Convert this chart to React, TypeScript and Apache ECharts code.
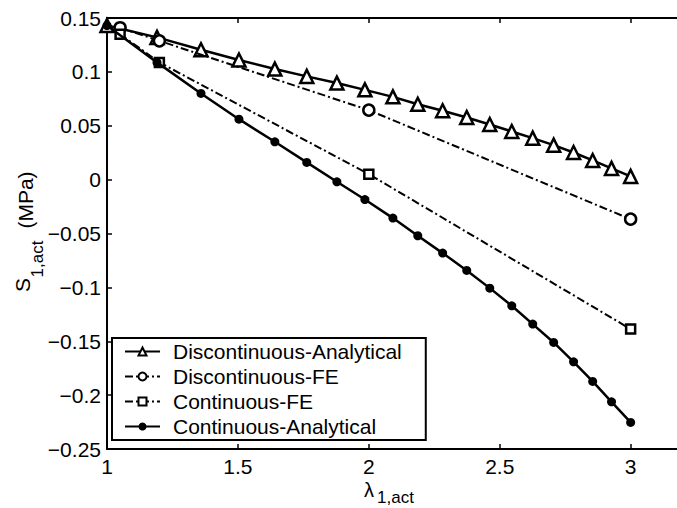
import React, { useEffect, useRef } from "react";
import * as echarts from "echarts";

const FONT = "'Liberation Sans', Arial, Helvetica, sans-serif";

// x values (lambda_1,act) of the analytical curves
const analyticX = [
  1.0, 1.191, 1.359, 1.504, 1.641, 1.763, 1.878, 1.985, 2.092, 2.187, 2.282,
  2.374, 2.462, 2.546, 2.626, 2.706, 2.782, 2.855, 2.927, 3.0,
];
const discAnalyticY = [
  0.143, 0.132, 0.1205, 0.111, 0.1026, 0.0958, 0.0896, 0.0833, 0.0768, 0.07,
  0.0639, 0.0577, 0.0512, 0.0447, 0.0385, 0.032, 0.0252, 0.0178, 0.0104, 0.003,
];
const contAnalyticY = [
  0.143, 0.1088, 0.08, 0.0561, 0.0351, 0.016, -0.002, -0.0185, -0.0357,
  -0.0521, -0.0682, -0.0843, -0.1007, -0.1171, -0.1341, -0.1511, -0.1691,
  -0.1873, -0.2062, -0.2253,
];
// FE results
const feX = [1.05, 1.2, 2.0, 3.0];
const discFEY = [0.141, 0.1288, 0.0645, -0.0367];
const contFEY = [0.135, 0.1088, 0.0051, -0.1387];

const seriesNames = [
  "Discontinuous-Analytical",
  "Discontinuous-FE",
  "Continuous-FE",
  "Continuous-Analytical",
];

const xMin = 1;
const xMax = 3.2;
const xInterval = 0.5;
const yMin = -0.25;
const yMax = 0.15;
const yInterval = 0.05;

const zip = (xs: number[], ys: number[]) => xs.map((x, i) => [x, ys[i]]);

const fmtY = (v: number) => {
  const s = String(Number(v.toFixed(2)));
  return s.replace("-", "\u2212");
};

export default function App() {
  const ref = useRef<HTMLDivElement>(null);
  useEffect(() => {
    if (!ref.current) return;
    const chart = echarts.init(ref.current, null, { renderer: "svg" });
    const dashDot = [8, 3, 2, 3];
    const axisCommon = {
      axisLine: { onZero: false, lineStyle: { color: "#000", width: 2 } },
      axisTick: { inside: true, length: 5, lineStyle: { color: "#000", width: 1.5 } },
      splitLine: { show: false },
    };
    chart.setOption({
      animation: false,
      backgroundColor: "#fff",
      textStyle: { fontFamily: FONT },
      grid: {
        left: 107,
        width: 576,
        top: 18,
        height: 431,
        containLabel: false,
        outerBoundsMode: "none",
      },
      legend: {
        orient: "vertical",
        left: 112,
        top: 338,
        data: seriesNames,
        itemWidth: 35,
        itemHeight: 10,
        itemGap: 4,
        padding: [3, 24, 3, 12],
        borderColor: "#000",
        borderWidth: 2,
        borderRadius: 0,
        backgroundColor: "#fff",
        textStyle: {
          fontSize: 21,
          color: "#000",
          fontFamily: FONT,
          padding: [0, 0, 0, 8],
        },
      },
      xAxis: [
        {
          type: "value",
          min: xMin,
          max: xMax,
          interval: xInterval,
          ...axisCommon,
          axisLabel: {
            color: "#000",
            fontSize: 21,
            fontFamily: FONT,
            margin: 7,
            formatter: (v: number) => (v > 3.05 ? "" : String(v)),
          },
        },
        {
          type: "value",
          position: "top",
          min: xMin,
          max: xMax,
          interval: xInterval,
          ...axisCommon,
          axisLabel: { show: false },
        },
      ],
      yAxis: [
        {
          type: "value",
          min: yMin,
          max: yMax,
          interval: yInterval,
          ...axisCommon,
          axisLine: { show: true, onZero: false, lineStyle: { color: "#000", width: 2 } },
          axisTick: { show: true, inside: true, length: 5, lineStyle: { color: "#000", width: 1.5 } },
          axisLabel: {
            color: "#000",
            fontSize: 21,
            fontFamily: FONT,
            margin: 6,
            formatter: fmtY,
          },
        },
      ],
      series: [
        {
          name: seriesNames[0],
          type: "line",
          data: zip(analyticX, discAnalyticY),
          clip: false,
          symbol: "triangle",
          symbolSize: 13,
          lineStyle: { color: "#000", width: 2.5 },
          itemStyle: { color: "#fff", borderColor: "#000", borderWidth: 2.5 },
          z: 2,
        },
        {
          name: seriesNames[1],
          type: "line",
          data: zip(feX, discFEY),
          clip: false,
          symbol: "circle",
          symbolSize: 11,
          lineStyle: { color: "#000", width: 2, type: dashDot },
          itemStyle: { color: "#fff", borderColor: "#000", borderWidth: 2.5 },
          z: 3,
        },
        {
          name: seriesNames[2],
          type: "line",
          data: zip(feX, contFEY),
          clip: false,
          symbol: "rect",
          symbolSize: 9,
          lineStyle: { color: "#000", width: 2, type: dashDot },
          itemStyle: { color: "#fff", borderColor: "#000", borderWidth: 2.5 },
          z: 4,
        },
        {
          name: seriesNames[3],
          type: "line",
          data: zip(analyticX, contAnalyticY),
          clip: false,
          symbol: "circle",
          symbolSize: 9,
          lineStyle: { color: "#000", width: 2.5 },
          itemStyle: { color: "#000", borderColor: "#000", borderWidth: 0 },
          z: 5,
        },
      ],
      graphic: [
        {
          type: "text",
          x: 369,
          y: 490,
          style: { text: "\u03bb", fontSize: 20, fontFamily: FONT, fill: "#000", align: "center", verticalAlign: "middle" },
        },
        {
          type: "text",
          x: 377,
          y: 497,
          style: { text: "1,act", fontSize: 17, fontFamily: FONT, fill: "#000", align: "left", verticalAlign: "middle" },
        },
        {
          type: "text",
          x: 22,
          y: 285,
          rotation: Math.PI / 2,
          style: { text: "S", fontSize: 21, fontFamily: FONT, fill: "#000", align: "center", verticalAlign: "middle" },
        },
        {
          type: "text",
          x: 37,
          y: 259,
          rotation: Math.PI / 2,
          style: { text: "1,act", fontSize: 17, fontFamily: FONT, fill: "#000", align: "center", verticalAlign: "middle" },
        },
        {
          type: "text",
          x: 25,
          y: 200,
          rotation: Math.PI / 2,
          style: { text: "(MPa)", fontSize: 21, fontFamily: FONT, fill: "#000", align: "center", verticalAlign: "middle" },
        },
      ],
    });
    return () => chart.dispose();
  }, []);
  return <div ref={ref} style={{ width: 677, height: 508, position: "absolute", left: 0, top: 0 }} />;
}
